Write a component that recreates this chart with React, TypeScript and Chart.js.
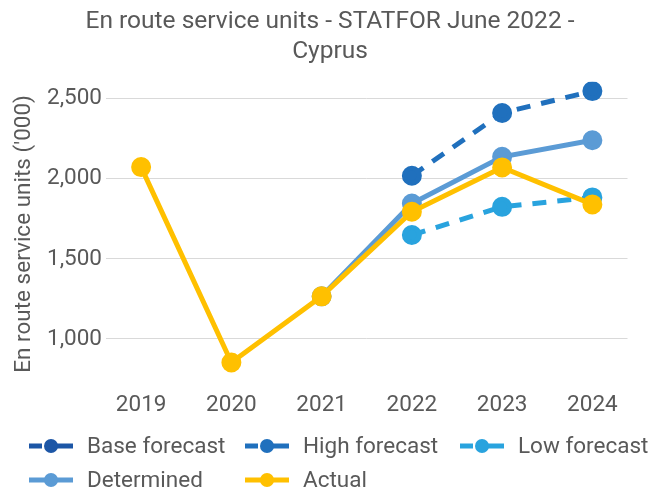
import React, { useEffect, useRef } from "react";
import { Chart, registerables } from "chart.js";

Chart.register(...registerables);

const years = ["2019", "2020", "2021", "2022", "2023", "2024"];
const baseForecast = [null, null, null, 1840, 2131, 2235];
const highForecast = [null, null, null, 2013, 2405, 2542];
const lowForecast = [null, null, null, 1643, 1819, 1878];
const determined = [null, null, 1260, 1840, 2131, 2235];
const actual = [2067, 847, 1260, 1788, 2065, 1834];
const yTickValues = [1000, 1500, 2000, 2500];

const seriesNames = ["Base forecast", "High forecast", "Low forecast", "Determined", "Actual"];
const seriesColors = ["#1c56a6", "#2070bd", "#29a3de", "#5b9bd5", "#ffc000"];
const TEXT = "#595959";
const FONT = "Roboto, 'Liberation Sans', sans-serif";

const gridPlugin = {
  id: "customGrid",
  beforeDatasetsDraw(chart: any) {
    const { ctx, chartArea, scales } = chart;
    const y = scales.y;
    ctx.save();
    ctx.strokeStyle = "#d9d9d9";
    ctx.lineWidth = 1;
    ctx.fillStyle = TEXT;
    ctx.font = `22.5px ${FONT}`;
    ctx.textAlign = "right";
    ctx.textBaseline = "middle";
    y.ticks.forEach((t: any) => {
      const yp = y.getPixelForValue(t.value);
      const py = Math.round(yp) + 0.5;
      ctx.beginPath();
      ctx.moveTo(chartArea.left + 10, py);
      ctx.lineTo(chartArea.right - 10, py);
      ctx.stroke();
      ctx.fillText(Number(t.value).toLocaleString("en-US"), chartArea.left + 6, yp + 1);
    });
    ctx.restore();
  },
};

const legendPlugin = {
  id: "customLegend",
  afterDraw(chart: any) {
    const { ctx } = chart;
    const colX = [29, 245, 460];
    const rowY = [446, 480];
    ctx.save();
    chart.data.datasets.forEach((ds: any, i: number) => {
      const x = colX[i % 3];
      const y = rowY[Math.floor(i / 3)];
      ctx.strokeStyle = ds.borderColor;
      ctx.fillStyle = ds.borderColor;
      const dashed = ds.borderDash && ds.borderDash.length > 0;
      ctx.lineWidth = 5;
      ctx.setLineDash([]);
      ctx.beginPath();
      if (dashed) {
        ctx.moveTo(x, y);
        ctx.lineTo(x + 13, y);
        ctx.moveTo(x + 28, y);
        ctx.lineTo(x + 44, y);
      } else {
        ctx.moveTo(x, y);
        ctx.lineTo(x + 44, y);
      }
      ctx.stroke();
      ctx.beginPath();
      ctx.arc(x + 22, y, 7, 0, Math.PI * 2);
      ctx.fill();
      ctx.fillStyle = TEXT;
      ctx.font = `22.5px ${FONT}`;
      ctx.textBaseline = "middle";
      ctx.textAlign = "left";
      ctx.fillText(ds.label, x + 58, y + 1);
    });
    ctx.restore();
  },
};

export default function App() {
  const ref = useRef<HTMLCanvasElement>(null);
  useEffect(() => {
    if (!ref.current) return;
    const mk = (i: number, data: any[], dashed: boolean, order: number, width = 5, radius = 7.5) => ({
      label: seriesNames[i],
      data,
      borderColor: seriesColors[i],
      backgroundColor: seriesColors[i],
      pointBackgroundColor: seriesColors[i],
      pointBorderColor: seriesColors[i],
      borderWidth: width,
      borderDash: dashed ? [14, 11] : [],
      pointRadius: radius,
      pointHoverRadius: radius,
      borderCapStyle: "butt",
      tension: 0,
      spanGaps: false,
      order,
    });
    const chart = new Chart(ref.current, {
      type: "line",
      data: {
        labels: years,
        datasets: [
          mk(0, baseForecast, true, 5, 3, 6),
          mk(1, highForecast, true, 4),
          mk(2, lowForecast, true, 3),
          mk(3, determined, false, 2),
          mk(4, actual, false, 1),
        ] as any,
      },
      options: {
        animation: false,
        responsive: false,
        maintainAspectRatio: false,
        layout: { padding: { left: 10, right: 0, top: 0, bottom: 66 } },
        plugins: {
          legend: { display: false },
          tooltip: { enabled: false },
          title: {
            display: true,
            text: ["En route service units - STATFOR June 2022 -", "Cyprus"],
            color: TEXT,
            font: { family: FONT, size: 24.5, weight: "normal", lineHeight: 1.22 },
            padding: { top: 7, bottom: 15 },
          },
        },
        scales: {
          x: {
            offset: true,
            grid: { display: false, drawTicks: false },
            border: { display: false },
            ticks: { color: TEXT, font: { family: FONT, size: 22.5 }, padding: 6, maxRotation: 0 },
            afterFit: (s: any) => {
              s.height = 40;
            },
          },
          y: {
            min: 700,
            max: 2600,
            grid: { display: false, drawTicks: false },
            border: { display: false },
            ticks: { display: false },
            afterBuildTicks: (s: any) => {
              s.ticks = yTickValues.map((v) => ({ value: v }));
            },
            afterFit: (s: any) => {
              s.width = 86;
            },
            title: {
              display: true,
              text: "En route service units ('000)",
              color: TEXT,
              font: { family: FONT, size: 22.5 },
              padding: { top: 1, bottom: 0 },
            },
          },
        },
      },
      plugins: [gridPlugin, legendPlugin],
    });
    return () => chart.destroy();
  }, []);
  return (
    <div style={{ position: "fixed", left: 0, top: 0, width: 650, height: 492, background: "#fff" }}>
      <canvas ref={ref} width={650} height={492} style={{ width: 650, height: 492 }} />
    </div>
  );
}
